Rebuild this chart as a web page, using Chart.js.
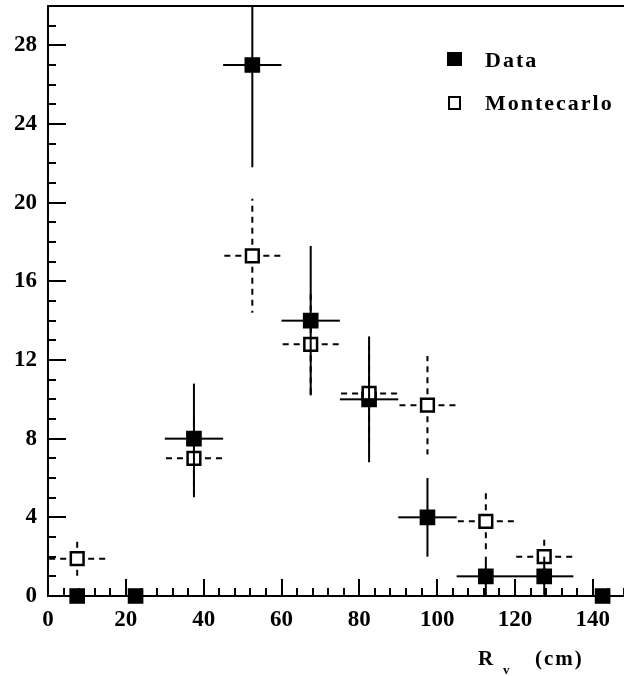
<!DOCTYPE html>
<html><head><meta charset="utf-8">
<script src="https://cdn.jsdelivr.net/npm/chart.js@4/dist/chart.umd.min.js"></script>
<style>html,body{margin:0;padding:0;background:#fff}canvas{display:block}</style>
</head><body>
<canvas id="c" width="624" height="676"></canvas>
<script>
// ---- data ----
const binCenters = [7.5, 22.5, 37.5, 52.5, 67.5, 82.5, 97.5, 112.5, 127.5, 142.5];
const dataValues = [0, 0, 8, 27, 14, 10, 4, 1, 1, 0];
const dataErrY   = [0, 0, 2.8, 5.2, 3.8, 3.2, 2.0, 1.0, 1.0, 0];
const dataErrX   = [0, 0, 7.5, 7.5, 7.5, 7.5, 7.5, 7.5, 7.5, 0];
const mcCenters  = [7.5, 37.5, 52.5, 67.5, 82.5, 97.5, 112.5, 127.5];
const mcValues   = [1.9, 7.0, 17.3, 12.8, 10.3, 9.7, 3.8, 2.0];
const mcErrY     = [1.1, 2.0, 2.9, 2.6, 2.4, 2.5, 1.6, 1.0];
const mcErrX     = [7.5, 7.5, 7.5, 7.5, 7.5, 7.5, 7.5, 7.5];
const xTickValues = [0, 20, 40, 60, 80, 100, 120, 140];
const yTickValues = [0, 4, 8, 12, 16, 20, 24, 28];
const seriesNames = ['Data', 'Montecarlo'];
const axisTitleParts = ['R', 'v', '(cm)'];

const SERIF = '"Liberation Serif", "DejaVu Serif", serif';

function drawErrors(chart, xs, ys, ex, ey, dashed) {
  const {ctx, chartArea: a, scales: {x, y}} = chart;
  ctx.save();
  ctx.beginPath();
  ctx.rect(a.left, a.top, a.right - a.left, a.bottom - a.top + 30);
  ctx.clip();
  ctx.strokeStyle = '#000';
  ctx.lineWidth = 2;
  ctx.setLineDash(dashed ? [6, 5] : []);
  for (let i = 0; i < xs.length; i++) {
    const px = x.getPixelForValue(xs[i]);
    const py = y.getPixelForValue(ys[i]);
    const arms = [];
    if (ey[i] > 0) {
      arms.push([px, y.getPixelForValue(ys[i] + ey[i])]);
      arms.push([px, y.getPixelForValue(ys[i] - ey[i])]);
    }
    if (ex[i] > 0) {
      arms.push([x.getPixelForValue(xs[i] - ex[i]), py]);
      arms.push([x.getPixelForValue(xs[i] + ex[i]), py]);
    }
    for (const [qx, qy] of arms) {
      ctx.beginPath();
      ctx.moveTo(px, py);
      ctx.lineTo(qx, qy);
      ctx.stroke();
    }
  }
  ctx.restore();
}

const errorBarsPlugin = {
  id: 'errorBars',
  beforeDatasetsDraw(chart) {
    drawErrors(chart, mcCenters, mcValues, mcErrX, mcErrY, true);
  },
  afterDatasetsDraw(chart) {
    drawErrors(chart, binCenters, dataValues, dataErrX, dataErrY, false);
  }
};

const framePlugin = {
  id: 'frame',
  afterDraw(chart) {
    const {ctx, chartArea: a, scales: {x, y}} = chart;
    ctx.save();
    ctx.strokeStyle = '#000';
    ctx.lineWidth = 2;
    ctx.lineCap = 'square';
    ctx.beginPath();
    ctx.moveTo(chart.width, a.top); ctx.lineTo(a.left, a.top);
    ctx.lineTo(a.left, a.bottom); ctx.lineTo(chart.width, a.bottom);
    ctx.stroke();
    ctx.lineCap = 'butt';
    // inward ticks on y axis
    for (let v = y.min; v <= y.max + 1e-9; v += 1) {
      const py = Math.round(y.getPixelForValue(v));
      const len = (v % 4 === 0) ? 18 : 8;
      ctx.beginPath(); ctx.moveTo(a.left, py); ctx.lineTo(a.left + len, py); ctx.stroke();
    }
    // inward ticks on x axis
    for (let v = x.min; v <= x.max + 1e-9; v += 4) {
      const px = Math.round(x.getPixelForValue(v));
      const len = (v % 20 === 0) ? 17 : 8;
      ctx.beginPath(); ctx.moveTo(px, a.bottom); ctx.lineTo(px, a.bottom - len); ctx.stroke();
    }
    // legend
    ctx.fillStyle = '#000';
    ctx.fillRect(447, 52, 15, 14);
    ctx.lineWidth = 2;
    ctx.strokeRect(449, 97, 11, 12);
    ctx.font = 'bold 22px ' + SERIF;
    ctx.letterSpacing = '2px';
    ctx.textAlign = 'left';
    ctx.textBaseline = 'alphabetic';
    ctx.fillText(seriesNames[0], 485, 67);
    ctx.fillText(seriesNames[1], 485, 110);
    // axis title
    ctx.letterSpacing = '0px';
    ctx.font = 'bold 21px ' + SERIF;
    ctx.fillText(axisTitleParts[0], 478, 665);
    ctx.font = 'bold 13px ' + SERIF;
    ctx.fillText(axisTitleParts[1], 503, 674);
    ctx.font = 'bold 21px ' + SERIF;
    ctx.letterSpacing = '2px';
    ctx.fillText(axisTitleParts[2], 535, 665);
    ctx.restore();
  }
};

new Chart(document.getElementById('c'), {
  type: 'scatter',
  data: {
    datasets: [
      {
        label: seriesNames[1],
        data: mcCenters.map((v, i) => ({x: v, y: mcValues[i]})),
        pointStyle: 'rect', pointRadius: 9, borderWidth: 2.5,
        borderColor: '#000', backgroundColor: '#fff', clip: false, order: 0
      },
      {
        label: seriesNames[0],
        data: binCenters.map((v, i) => ({x: v, y: dataValues[i]})),
        pointStyle: 'rect', pointRadius: 10, borderWidth: 1.5,
        borderColor: '#000', backgroundColor: '#000', clip: false, order: 1
      }
    ]
  },
  options: {
    responsive: false,
    animation: false,
    devicePixelRatio: 1,
    layout: {autoPadding: false, padding: {top: 6, right: 0, bottom: 0, left: 0}},
    plugins: {legend: {display: false}, tooltip: {enabled: false}},
    scales: {
      x: {
        type: 'linear', min: 0, max: 148,
        border: {display: false},
        grid: {display: false, drawTicks: true, tickLength: 10},
        afterBuildTicks: s => { s.ticks = xTickValues.map(v => ({value: v})); },
        afterFit: s => { s.height = 80; },
        ticks: {color: '#000', padding: 0, font: {family: SERIF, weight: 'bold', size: 23}}
      },
      y: {
        type: 'linear', min: 0, max: 30,
        border: {display: false},
        grid: {display: false, drawTicks: true, tickLength: 11},
        afterBuildTicks: s => { s.ticks = yTickValues.map(v => ({value: v})); },
        afterFit: s => { s.width = 48; },
        ticks: {color: '#000', padding: 0, font: {family: SERIF, weight: 'bold', size: 23, lineHeight: 0.4}}
      }
    }
  },
  plugins: [errorBarsPlugin, framePlugin]
});
</script>
</body></html>
